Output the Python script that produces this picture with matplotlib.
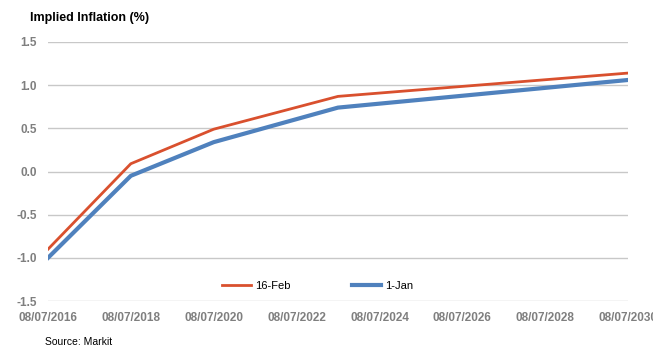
import datetime as dt
import matplotlib
matplotlib.use('Agg')
import matplotlib.pyplot as plt
import matplotlib.dates as mdates

plt.rcParams['font.family'] = ['Liberation Sans', 'DejaVu Sans']

dates = [dt.date(2016, 7, 8), dt.date(2018, 7, 8), dt.date(2020, 7, 8),
         dt.date(2023, 7, 8), dt.date(2030, 7, 8)]
feb16 = [-0.90, 0.09, 0.49, 0.87, 1.14]
jan1 = [-1.00, -0.05, 0.34, 0.74, 1.06]
tick_dates = [dt.date(y, 7, 8) for y in range(2016, 2031, 2)]

fig = plt.figure(figsize=(6.53, 3.47), dpi=100)
ax = fig.add_axes([48/653, 1 - 301/347, 580/653, 259/347])

ax.plot(dates, feb16, color='#D9502E', lw=2.0, label='16-Feb', zorder=3)
ax.plot(dates, jan1, color='#4F81BD', lw=3.0, label='1-Jan', zorder=3)

ax.set_ylim(-1.5, 1.5)
ax.set_yticks([-1.5, -1.0, -0.5, 0.0, 0.5, 1.0, 1.5])
ax.yaxis.set_major_formatter(plt.FuncFormatter(lambda v, p: f'{v:.1f}'))
ax.set_xlim(tick_dates[0], tick_dates[-1])
ax.set_xticks(tick_dates)
ax.xaxis.set_major_formatter(mdates.DateFormatter('%d/%m/%Y'))
ax.grid(axis='y', color='#C8C8C8', lw=1.0)
ax.set_axisbelow(True)
for s in ax.spines.values():
    s.set_visible(False)
ax.tick_params(length=0, colors='#7F7F7F', labelsize=8.5)
ax.tick_params(axis='y', pad=8)
ax.tick_params(axis='x', pad=8)
for lab in ax.get_xticklabels() + ax.get_yticklabels():
    lab.set_fontweight('bold')

leg = ax.legend(loc='lower center', bbox_to_anchor=(0.465, 0.0), ncol=2, frameon=False,
                fontsize=8, handlelength=2.6, columnspacing=5.5, handletextpad=0.4)

fig.text(30/653, 1 - 18/347, 'Implied Inflation (%)', fontsize=9, fontweight='bold',
         va='center', ha='left')
fig.text(45/653, 1 - 342/347, 'Source: Markit', fontsize=7.5, va='center', ha='left')

fig.savefig('out.png', dpi=100)
